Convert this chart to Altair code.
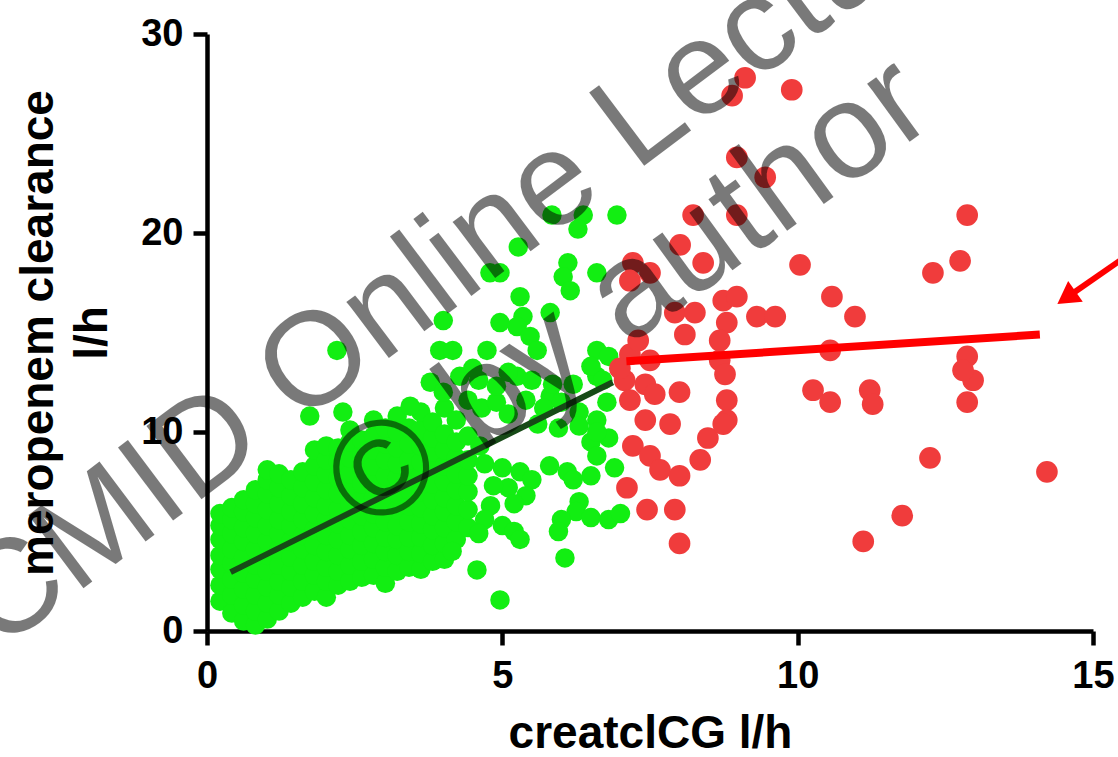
import altair as alt
import pandas as pd

# ---------------- data ----------------
x_ticks = [0, 5, 10, 15]
y_ticks = [0, 10, 20, 30]

# dense green cloud, listed column by column (createlCG value, meropenem clearances)
green_columns = [
    (0.22, [1.5, 2.3, 3.1, 3.8, 4.6, 5.3, 5.9]),
    (0.42, [0.9, 1.8, 2.6, 3.4, 4.1, 4.9, 5.6, 6.2]),
    (0.62, [0.5, 1.3, 2.1, 2.9, 3.7, 4.5, 5.2, 6.0, 6.6]),
    (0.82, [0.3, 1.0, 1.8, 2.6, 3.3, 4.1, 4.9, 5.7, 6.4, 7.1]),
    (1.02, [0.6, 1.4, 2.2, 3.0, 3.8, 4.5, 5.3, 6.1, 6.9, 7.6, 8.1]),
    (1.22, [1.0, 1.8, 2.5, 3.3, 4.1, 4.9, 5.6, 6.4, 7.2, 7.9]),
    (1.42, [1.4, 2.2, 3.0, 3.7, 4.5, 5.3, 6.0, 6.8, 7.6]),
    (1.62, [1.7, 2.5, 3.3, 4.1, 4.8, 5.6, 6.4, 7.2, 8.0]),
    (1.82, [2.0, 2.8, 3.5, 4.3, 5.1, 5.9, 6.7, 7.5, 8.3, 9.1]),
    (2.02, [1.7, 2.5, 3.2, 4.0, 4.8, 5.6, 6.3, 7.1, 7.9, 8.6, 9.3]),
    (2.22, [2.3, 3.0, 3.8, 4.6, 5.4, 6.1, 6.9, 7.7, 8.5, 9.2]),
    (2.42, [2.5, 3.3, 4.1, 4.8, 5.6, 6.4, 7.2, 7.9, 8.7, 9.5, 10.1]),
    (2.62, [2.7, 3.5, 4.3, 5.0, 5.8, 6.6, 7.4, 8.1, 8.9, 9.6]),
    (2.82, [2.8, 3.6, 4.4, 5.2, 5.9, 6.7, 7.5, 8.3, 9.1, 9.8, 10.6]),
    (3.02, [2.4, 3.2, 4.0, 4.7, 5.5, 6.3, 7.1, 7.8, 8.6, 9.4, 10.2]),
    (3.22, [3.0, 3.8, 4.6, 5.3, 6.1, 6.9, 7.7, 8.4, 9.2, 10.0, 10.8]),
    (3.42, [3.2, 4.0, 4.7, 5.5, 6.3, 7.1, 7.9, 8.6, 9.4, 10.2]),
    (3.62, [3.1, 3.9, 4.7, 5.4, 6.2, 7.0, 7.8, 8.5, 9.3, 10.1, 11.0]),
    (3.82, [3.5, 4.3, 5.1, 5.8, 6.6, 7.4, 8.2, 9.0, 9.7, 10.5]),
    (4.02, [3.6, 4.4, 5.2, 6.0, 6.7, 7.5, 8.3, 9.1, 9.9, 11.2]),
    (4.22, [4.6, 5.5, 6.3, 7.1, 7.9, 8.7, 9.5, 10.6]),
    (4.42, [5.2, 6.1, 7.0, 7.8, 8.6, 9.8, 11.6]),
]

# scattered green points
green_scatter = [
    (5.84, 20.9), (6.37, 20.9), (6.94, 20.9), (6.28, 20.2), (5.27, 19.3),
    (4.79, 18.0), (4.96, 18.0), (6.11, 18.5), (6.03, 17.8), (6.15, 17.1),
    (6.60, 18.0), (5.30, 16.8), (5.35, 15.8), (5.25, 15.3), (5.81, 16.0),
    (4.00, 15.6), (2.20, 14.1), (3.94, 14.1), (4.16, 14.1), (4.74, 14.1),
    (5.47, 14.8), (5.59, 14.1), (6.60, 14.1), (5.25, 12.8), (3.78, 12.5),
    (4.28, 12.8), (5.81, 11.8), (6.60, 12.8), (3.44, 11.3), (2.30, 11.0),
    (1.74, 10.8), (4.96, 15.5), (6.77, 11.5), (4.00, 12.0), (4.15, 4.0),
    (4.65, 11.2), (4.90, 11.5), (5.10, 10.9), (4.62, 9.3), (4.70, 8.4),
    (5.40, 11.6), (5.70, 11.2), (6.00, 11.5), (6.30, 11.0), (5.60, 10.4),
    (5.95, 10.2), (6.30, 10.3), (6.60, 10.6), (6.50, 9.5), (6.80, 9.7),
    (6.60, 8.8), (6.90, 8.2), (6.50, 7.8), (5.80, 8.3), (6.10, 8.0),
    (6.20, 7.6), (5.00, 8.2), (5.30, 8.0), (5.50, 7.6), (5.10, 7.2),
    (5.40, 6.8), (5.20, 6.4), (4.80, 6.3), (4.70, 5.6), (5.00, 5.3),
    (5.20, 5.0), (4.60, 4.9), (5.30, 4.6), (4.57, 3.07), (4.96, 1.56),
    (6.30, 6.5), (6.25, 6.0), (6.00, 5.6), (5.95, 5.0), (6.50, 5.7),
    (6.80, 5.6), (7.00, 5.9), (6.06, 3.67), (6.60, 10.0), (4.85, 7.3),
    (4.60, 12.6), (4.90, 12.3), (5.10, 13.0), (5.50, 12.6), (5.85, 12.4),
    (6.20, 12.4), (6.50, 13.3), (6.80, 13.8), (6.70, 12.6), (4.50, 13.2),
]

red_points = [
    (9.11, 27.8), (8.89, 26.9), (9.90, 27.2), (8.97, 23.8), (9.45, 22.8),
    (8.23, 20.9), (8.97, 20.9), (12.87, 20.9),
    (8.01, 19.4), (7.21, 18.5), (7.50, 18.0), (7.16, 17.6), (8.40, 18.5),
    (10.04, 18.4), (12.75, 18.6), (12.29, 18.0),
    (7.92, 16.0), (8.26, 16.0), (8.09, 14.9), (8.74, 16.6), (8.97, 16.8),
    (8.80, 15.5), (8.68, 14.6), (9.31, 15.8), (9.62, 15.8), (10.58, 16.8),
    (10.97, 15.8),
    (7.16, 13.9), (7.50, 13.6), (7.07, 12.6), (7.42, 12.4), (7.16, 11.6),
    (7.58, 11.9), (6.99, 13.2), (7.30, 14.6),
    (8.68, 13.6), (8.77, 12.9), (8.00, 12.0), (8.80, 11.6), (8.80, 10.6),
    (10.55, 14.1), (10.26, 12.1), (10.55, 11.5), (11.22, 12.1), (11.27, 11.4),
    (12.87, 13.8), (12.97, 12.6), (12.87, 11.5), (12.80, 13.1),
    (7.42, 10.6), (7.84, 10.4), (7.21, 9.3), (7.50, 8.8), (7.67, 8.1),
    (8.00, 7.8), (8.35, 8.6), (8.48, 9.7), (8.74, 10.4),
    (7.11, 7.2), (7.45, 6.1), (7.92, 6.1), (8.00, 4.4),
    (12.24, 8.7), (14.22, 8.0), (11.77, 5.8), (11.11, 4.5),
]

green_fit_x = [0.40, 6.87]
green_fit_y = [2.96, 12.5]
red_fit_x = [7.10, 14.10]
red_fit_y = [13.55, 14.9]

arrow_x = [15.45, 14.55]
arrow_y = [18.6, 16.75]

watermark_lines = ["CMID Online Lecture", "\u00a9 by author"]
watermark_x = [4.45, 7.15]
watermark_y = [19.3, 16.9]

# ---------------- tables ----------------
g_rows = [{"x": cx, "y": cy} for cx, ys in green_columns for cy in ys]
g_rows += [{"x": a, "y": b} for a, b in green_scatter]
green_df = pd.DataFrame(g_rows)
red_df = pd.DataFrame([{"x": a, "y": b} for a, b in red_points])
gfit_df = pd.DataFrame({"x": green_fit_x, "y": green_fit_y})
rfit_df = pd.DataFrame({"x": red_fit_x, "y": red_fit_y})
arrow_df = pd.DataFrame({"x": [arrow_x[0]], "y": [arrow_y[0]], "x2": [arrow_x[1]], "y2": [arrow_y[1]]})
head_df = pd.DataFrame({"x": [arrow_x[1]], "y": [arrow_y[1]]})
wm_df = pd.DataFrame({"x": watermark_x, "y": watermark_y, "t": watermark_lines})

FONT = "Liberation Sans"

def X():
    return alt.X("x:Q", scale=alt.Scale(domain=[0, 15], nice=False, zero=False),
                 axis=alt.Axis(values=x_ticks, title="creatclCG l/h", format="d"))

def Y():
    return alt.Y("y:Q", scale=alt.Scale(domain=[0, 30], nice=False, zero=False),
                 axis=alt.Axis(values=y_ticks, title=["meropenem clearance", "l/h"], format="d"))

green = alt.Chart(green_df).mark_circle(size=380, opacity=1, color="#12ee12").encode(x=X(), y=Y())
red = alt.Chart(red_df).mark_circle(size=470, opacity=1, color="#f03c3c").encode(x=X(), y=Y())
gline = alt.Chart(gfit_df).mark_line(color="#174a17", strokeWidth=6).encode(x=X(), y=Y())
rline = alt.Chart(rfit_df).mark_line(color="#ff0000", strokeWidth=8).encode(x=X(), y=Y())

wm1 = alt.Chart(wm_df.iloc[[0]]).mark_text(
    font=FONT, fontSize=133, angle=323, align="center", baseline="middle",
    color="black", opacity=0.52).encode(x=X(), y=Y(), text="t:N")
wm2 = alt.Chart(wm_df.iloc[[1]]).mark_text(
    font=FONT, fontSize=136, angle=324, align="center", baseline="middle",
    color="black", opacity=0.52).encode(x=X(), y=Y(), text="t:N")

arrow = alt.Chart(arrow_df).mark_rule(color="#ff0000", strokeWidth=6).encode(
    x=X(), y=Y(), x2="x2:Q", y2="y2:Q")
head = alt.Chart(head_df).mark_point(shape="triangle-up", filled=True, size=650,
                                     color="#ff0000", opacity=1, angle=235).encode(x=X(), y=Y())

chart = alt.layer(green, red, gline, rline, wm1, wm2, arrow, head).properties(
    width=886, height=597,
    autosize=alt.AutoSizeParams(type="none"),
    padding={"left": 207, "top": 34, "right": 25, "bottom": 126},
    background="white",
).configure_view(stroke=None).configure_axis(
    grid=False,
    domainColor="black", domainWidth=4.5,
    tickColor="black", tickWidth=4.5, tickSize=14,
    labelFont=FONT, labelFontSize=38, labelFontWeight="bold", labelColor="black",
    labelFlush=False, labelOverlap=False, labelPadding=10,
    titleFont=FONT, titleFontSize=46, titleFontWeight="bold", titleColor="black",
).configure_axisX(titlePadding=16, labelPadding=12).configure_axisY(titlePadding=24, titleLineHeight=54)

chart.save("out.html", embed_options={"renderer": "svg", "actions": False})
